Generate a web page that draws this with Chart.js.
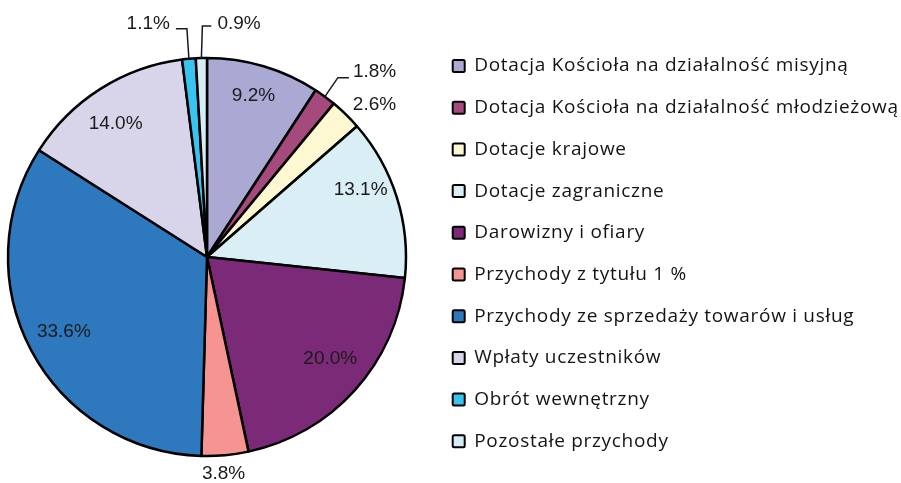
<!DOCTYPE html>
<html>
<head>
<meta charset="utf-8">
<script src="https://cdn.jsdelivr.net/npm/chart.js@4/dist/chart.umd.min.js"></script>
<style>
  html, body { margin: 0; padding: 0; background: #fff; }
  #wrap { width: 901px; height: 483px; position: relative; }
</style>
</head>
<body>
<div id="wrap"><canvas id="chart"></canvas></div>
<script>
  // kategorie i udziały (%)
  const categories = [
    'Dotacja Kościoła na działalność misyjną',
    'Dotacja Kościoła na działalność młodzieżową',
    'Dotacje krajowe',
    'Dotacje zagraniczne',
    'Darowizny i ofiary',
    'Przychody z tytułu 1 %',
    'Przychody ze sprzedaży towarów i usług',
    'Wpłaty uczestników',
    'Obrót wewnętrzny',
    'Pozostałe przychody',
  ];
  const shares = [9.2, 1.8, 2.6, 13.1, 20.0, 3.8, 33.6, 14.0, 1.1, 0.9];
  const sliceColors = [
    '#aaa9d4', '#a6497c', '#fdf8d2', '#d9eef5', '#7b2a78',
    '#f59490', '#2e78be', '#d8d5eb', '#39c3ef', '#d7edf5',
  ];

  // ── etykiety wartości (wewnątrz / na zewnątrz z linią odniesienia) ──
  const sliceLabels = {
    id: 'sliceLabels',
    afterDatasetsDraw(chart, args, opts) {
      const ctx = chart.ctx;
      const arcs = chart.getDatasetMeta(0).data;
      ctx.save();
      ctx.letterSpacing = '0px';
      ctx.font = opts.font;
      ctx.fillStyle = opts.color;
      ctx.strokeStyle = opts.color;
      ctx.lineWidth = opts.lineWidth;
      ctx.textBaseline = 'middle';
      arcs.forEach((arc, i) => {
        const { x, y, startAngle, endAngle, outerRadius } =
          arc.getProps(['x', 'y', 'startAngle', 'endAngle', 'outerRadius'], true);
        const mid = (startAngle + endAngle) / 2;
        const text = shares[i].toFixed(1) + '%';
        const out = opts.outside[i];
        if (!out) {
          const nudge = opts.nudge[i] || [0, 0];
          const r = outerRadius * opts.inset;
          ctx.textAlign = 'center';
          ctx.fillText(text, x + Math.cos(mid) * r + nudge[0], y + Math.sin(mid) * r + nudge[1]);
          return;
        }
        let ax = x + Math.cos(mid) * outerRadius;
        let ay = y + Math.sin(mid) * outerRadius;
        if (out.elbow) {
          const bx = ax + out.elbow[0], by = ay + out.elbow[1];
          ctx.beginPath();
          ctx.moveTo(ax, ay);
          ctx.lineTo(bx, by);
          ctx.lineTo(bx + out.run, by);
          ctx.stroke();
          ax = bx + out.run;
          ay = by;
        }
        ctx.textAlign = out.align;
        ctx.fillText(text, ax + out.dx, ay + out.dy);
      });
      ctx.restore();
    },
  };

  // ── ręczne rozmieszczenie: koło po lewej, legenda po prawej ──
  const placeBoxes = {
    id: 'placeBoxes',
    afterLayout(chart) {
      Object.assign(chart.chartArea, { left: 7, right: 407, top: 57, bottom: 457, width: 400, height: 400 });
      const lg = chart.legend;
      lg.left = 430; lg.right = chart.width; lg.width = lg.right - lg.left;
      lg.top = 33.8; lg.bottom = chart.height; lg.height = lg.bottom - lg.top;
    },
    beforeDraw(chart) {
      // szerszy rozstaw liter w legendzie (jak w oryginale)
      chart.ctx.letterSpacing = '0.7px';
    },
  };

  new Chart(document.getElementById('chart'), {
    type: 'pie',
    data: {
      labels: categories,
      datasets: [{
        data: shares,
        backgroundColor: sliceColors,
        borderColor: '#000',
        borderWidth: 2.5,
        radius: 199,
        clip: false,
      }],
    },
    options: {
      responsive: true,
      maintainAspectRatio: false,
      animation: false,
      events: [],
      plugins: {
        tooltip: { enabled: false },
        legend: {
          position: 'right',
          align: 'start',
          labels: {
            color: '#141414',
            font: { family: '"Open Sans", sans-serif', size: 19 },
            boxWidth: 12,
            boxHeight: 12,
            padding: 22.7,
            useBorderRadius: true,
            borderRadius: 1.5,
            generateLabels: (chart) =>
              Chart.overrides.pie.plugins.legend.labels.generateLabels(chart)
                .map(l => ({ ...l, lineWidth: 2, strokeStyle: '#000', borderRadius: 1.5 })),
          },
        },
        sliceLabels: {
          font: '19px "Liberation Sans", Arial, sans-serif',
          color: '#1a1a1a',
          lineWidth: 1.5,
          inset: 0.82,
          nudge: { 0: [0, -5], 3: [-2, -18], 4: [2, -7], 6: [1, -2], 7: [-4, 5] },
          outside: {
            1: { elbow: [13, -19], run: 11, dx: 4, dy: -6, align: 'left' },
            2: { elbow: null, dx: 7, dy: -9.5, align: 'left' },
            5: { elbow: null, dx: -1.5, dy: 19, align: 'center' },
            8: { elbow: [-2, -30], run: -11, dx: -6, dy: -5, align: 'right' },
            9: { elbow: [1, -32], run: 9, dx: 6, dy: -2, align: 'left' },
          },
        },
      },
    },
    plugins: [sliceLabels, placeBoxes],
  });
</script>
</body>
</html>
